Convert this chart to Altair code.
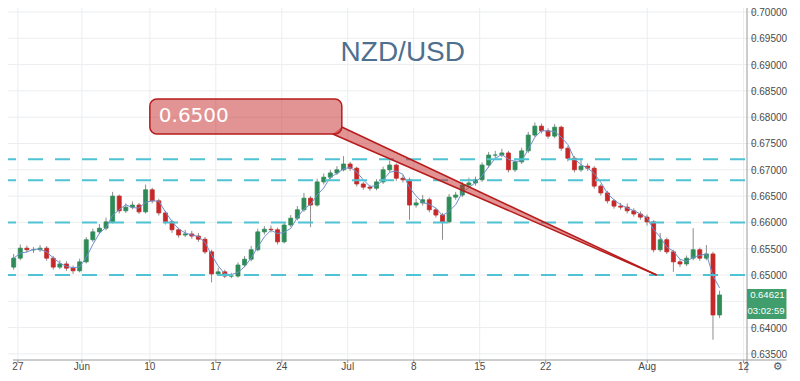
import altair as alt
import pandas as pd

# ---------------- data ----------------
closes = [0.6532, 0.6551, 0.6548, 0.6548, 0.6551, 0.6532, 0.6515, 0.6521, 0.6513, 0.6508,
          0.6525, 0.6567, 0.6582, 0.6589, 0.6601, 0.6650, 0.6622, 0.6629, 0.6633, 0.6620,
          0.6662, 0.6641, 0.6618, 0.6601, 0.6586, 0.6576, 0.6578, 0.6574, 0.6568, 0.6544,
          0.6502, 0.6506, 0.6498, 0.6498, 0.6519, 0.6530, 0.6548, 0.6582, 0.6587, 0.6586,
          0.6563, 0.6595, 0.6608, 0.6624, 0.6646, 0.6633, 0.6677, 0.6686, 0.6694, 0.6700,
          0.6711, 0.6703, 0.6673, 0.6667, 0.6665, 0.6677, 0.6700, 0.6709, 0.6684, 0.6681,
          0.6633, 0.6637, 0.6643, 0.6624, 0.6614, 0.6601, 0.6648, 0.6652, 0.6671, 0.6675,
          0.6681, 0.6709, 0.6728, 0.6728, 0.6732, 0.6700, 0.6715, 0.6736, 0.6766, 0.6783,
          0.6774, 0.6764, 0.6781, 0.6741, 0.6722, 0.6700, 0.6707, 0.6703, 0.6669, 0.6656,
          0.6641, 0.6631, 0.6629, 0.6622, 0.6616, 0.6610, 0.6601, 0.6548, 0.6567, 0.6544,
          0.6525, 0.6521, 0.6532, 0.6548, 0.6532, 0.6540, 0.6424, 0.6462]
highs = [0.6540, 0.6558, 0.6556, 0.6553, 0.6557, 0.6555, 0.6536, 0.6528, 0.6526, 0.6518,
         0.6531, 0.6572, 0.6588, 0.6597, 0.6609, 0.6658, 0.6653, 0.6636, 0.6640, 0.6637,
         0.6672, 0.6666, 0.6645, 0.6622, 0.6605, 0.6590, 0.6586, 0.6584, 0.6580, 0.6572,
         0.6548, 0.6514, 0.6510, 0.6504, 0.6524, 0.6536, 0.6555, 0.6588, 0.6593, 0.6594,
         0.6590, 0.6600, 0.6614, 0.6631, 0.6656, 0.6650, 0.6683, 0.6693, 0.6700, 0.6707,
         0.6726, 0.6715, 0.6706, 0.6677, 0.6671, 0.6682, 0.6706, 0.6718, 0.6712, 0.6690,
         0.6685, 0.6645, 0.6652, 0.6647, 0.6628, 0.6618, 0.6654, 0.6658, 0.6677, 0.6685,
         0.6687, 0.6714, 0.6734, 0.6736, 0.6740, 0.6736, 0.6720, 0.6742, 0.6772, 0.6790,
         0.6788, 0.6779, 0.6787, 0.6784, 0.6745, 0.6726, 0.6722, 0.6712, 0.6707, 0.6673,
         0.6660, 0.6645, 0.6637, 0.6636, 0.6627, 0.6621, 0.6615, 0.6604, 0.6580, 0.6571,
         0.6548, 0.6530, 0.6537, 0.6589, 0.6552, 0.6557, 0.6544, 0.6470]
lows = [0.6510, 0.6528, 0.6543, 0.6542, 0.6544, 0.6527, 0.6510, 0.6511, 0.6508, 0.6502,
        0.6505, 0.6522, 0.6563, 0.6578, 0.6585, 0.6598, 0.6617, 0.6618, 0.6625, 0.6616,
        0.6617, 0.6636, 0.6613, 0.6596, 0.6580, 0.6571, 0.6572, 0.6569, 0.6563, 0.6540,
        0.6486, 0.6498, 0.6494, 0.6494, 0.6495, 0.6515, 0.6526, 0.6545, 0.6577, 0.6581,
        0.6558, 0.6560, 0.6591, 0.6604, 0.6620, 0.6591, 0.6630, 0.6672, 0.6682, 0.6690,
        0.6697, 0.6698, 0.6668, 0.6662, 0.6660, 0.6661, 0.6673, 0.6696, 0.6679, 0.6676,
        0.6605, 0.6628, 0.6632, 0.6619, 0.6609, 0.6567, 0.6598, 0.6643, 0.6648, 0.6667,
        0.6670, 0.6677, 0.6704, 0.6722, 0.6724, 0.6695, 0.6696, 0.6711, 0.6732, 0.6762,
        0.6769, 0.6759, 0.6760, 0.6736, 0.6716, 0.6695, 0.6696, 0.6698, 0.6664, 0.6651,
        0.6636, 0.6626, 0.6624, 0.6617, 0.6611, 0.6605, 0.6594, 0.6543, 0.6544, 0.6540,
        0.6506, 0.6515, 0.6517, 0.6528, 0.6527, 0.6528, 0.6377, 0.6418]
first_open = 0.6515
first_bar = -0.32   # trading-day position of first candle
bar_step = 0.5      # trading days per candle

tick_pos = [0, 4.85, 10, 15, 20, 25, 30, 35, 40, 47.7, 55]
tick_text = ["27", "Jun", "10", "17", "24", "Jul", "8", "15", "22", "Aug", "12"]
price_ticks = [0.635, 0.640, 0.645, 0.650, 0.655, 0.660, 0.665, 0.670,
               0.675, 0.680, 0.685, 0.690, 0.695, 0.700]
price_labels = [v for v in price_ticks if v != 0.645]
levels = [0.672, 0.668, 0.660, 0.650]

title_text = "NZD/USD"
callout_text = "0.6500"
last_price = "0.64621"
countdown = "03:02:59"

# ---------------- tables ----------------
opens = [first_open] + closes[:-1]
df = pd.DataFrame({
    "pos": [first_bar + bar_step * i for i in range(len(closes))],
    "open": opens, "close": closes, "high": highs, "low": lows,
})

# scale frame (trading days / price)
X0, X1 = -0.3715, 55.259        # plot area, trading days
Y0, Y1 = 0.633840, 0.700759     # plot area, price
XR = 58.25                      # right end of price-scale strip
XL = 55.558                     # price label anchor
XT = 58.10                      # right edge of last-price texts
XG = 57.58                      # settings glyph
Y_LAB = 0.632416                # date label row
Y_TICK = 0.633270
Y_BOT = 0.631369

xs = alt.Scale(domain=[X0, X1], nice=False, zero=False)
ys = alt.Scale(domain=[Y0, Y1], nice=False, zero=False)
NOX = dict(scale=xs, axis=None)
NOY = dict(scale=ys, axis=None)

FONT = "Liberation Sans"
AXC = "#9a9a9a"
LABC = "#4a4a4a"
green = "#2e8b57"
red = "#c62828"

# grid
vgrid = alt.Chart(pd.DataFrame({"pos": tick_pos})).mark_rule(color="#ebedf0", strokeWidth=1).encode(
    x=alt.X("pos:Q", **NOX))
hgrid = alt.Chart(pd.DataFrame({"p": price_ticks})).mark_rule(color="#ebedf0", strokeWidth=1).encode(
    y=alt.Y("p:Q", **NOY))

base = alt.Chart(df)
wicks = base.mark_rule(color="#8c8c8c", strokeWidth=1).encode(
    x=alt.X("pos:Q", **NOX), y=alt.Y("low:Q", **NOY), y2="high:Q")
col = alt.condition("datum.open <= datum.close", alt.value(green), alt.value(red))
bodies = base.mark_bar(size=4, strokeWidth=0.8).encode(
    x=alt.X("pos:Q", **NOX), y=alt.Y("open:Q", **NOY), y2="close:Q",
    color=col, stroke=col)
ma = base.transform_window(ma="mean(close)", frame=[-2, 0], sort=[{"field": "pos"}]).mark_line(
    color="#6d8fcc", strokeWidth=1).encode(
    x=alt.X("pos:Q", **NOX), y=alt.Y("ma:Q", **NOY))

lv = alt.Chart(pd.DataFrame({"p": levels})).mark_rule(
    color="#4fc3d3", strokeWidth=2, strokeDash=[15, 12], strokeDashOffset=20).encode(
    y=alt.Y("p:Q", **NOY))

# callout
box = alt.Chart(pd.DataFrame({"x": [10.0], "x2": [24.55], "y": [0.68346], "y2": [0.67681]})).mark_rect(
    cornerRadius=7, fill=red, fillOpacity=0.5, stroke="#b71c1c", strokeWidth=1.5).encode(
    x=alt.X("x:Q", **NOX), x2="x2:Q", y=alt.Y("y:Q", **NOY), y2="y2:Q")
wedge = alt.Chart(pd.DataFrame({"x": [23.86, 24.545, 48.41],
                                "y": [0.67681, 0.67814, 0.6500],
                                "y2": [0.67681, 0.67604, 0.6500]})).mark_area(
    color=red, opacity=0.5).encode(
    x=alt.X("x:Q", **NOX), y=alt.Y("y:Q", **NOY), y2="y2:Q")
edges = alt.Chart(pd.DataFrame({"x": [23.86, 24.545], "y": [0.67681, 0.67814],
                                "x2": [48.41, 48.41], "y2": [0.6500, 0.6500]})).mark_rule(
    color="#b71c1c", strokeWidth=1.5).encode(
    x=alt.X("x:Q", **NOX), x2="x2:Q", y=alt.Y("y:Q", **NOY), y2="y2:Q")
ctext = alt.Chart(pd.DataFrame({"x": [10.68], "y": [0.68023], "t": [callout_text]})).mark_text(
    align="left", baseline="middle", font="DejaVu Sans", fontSize=20, color="white").encode(
    x=alt.X("x:Q", **NOX), y=alt.Y("y:Q", **NOY), text="t:N")

title = alt.Chart(pd.DataFrame({"x": [29.17], "y": [0.69220], "t": [title_text]})).mark_text(
    align="center", baseline="middle", font="Liberation Sans", fontSize=28, color="#4f6f8f").encode(
    x=alt.X("x:Q", **NOX), y=alt.Y("y:Q", **NOY), text="t:N")

# axis frame: separator + bottom line
frame = alt.Chart(pd.DataFrame({"x": [X1, X0], "x2": [X1, XR],
                                "y": [Y1, Y0], "y2": [Y_BOT, Y0]})).mark_rule(
    color=AXC, strokeWidth=1).encode(
    x=alt.X("x:Q", **NOX), x2="x2:Q", y=alt.Y("y:Q", **NOY), y2="y2:Q")

# price scale ticks + labels
pl = pd.DataFrame({"p": price_labels, "txt": [f"{v:.5f}" for v in price_labels]})
ptick = alt.Chart(pl).mark_rule(color=AXC, strokeWidth=1).encode(
    x=alt.value(744), x2=alt.value(747), y=alt.Y("p:Q", **NOY))
plab = alt.Chart(pl).mark_text(align="left", baseline="middle", font=FONT, fontSize=10, dy=1,
                               color=LABC).encode(
    x=alt.X("xl:Q", **NOX), y=alt.Y("p:Q", **NOY), text="txt:N").transform_calculate(xl=str(XL))

# time scale ticks + labels
tl = pd.DataFrame({"pos": tick_pos, "txt": tick_text})
ttick = alt.Chart(tl).mark_rule(color=AXC, strokeWidth=1).encode(
    x=alt.X("pos:Q", **NOX), y=alt.Y("a:Q", **NOY), y2="b:Q").transform_calculate(
    a=str(Y0), b=str(Y_TICK))
tlab = alt.Chart(tl).mark_text(align="center", baseline="middle", font=FONT, fontSize=10,
                               color=LABC).encode(
    x=alt.X("pos:Q", **NOX), y=alt.Y("yl:Q", **NOY), text="txt:N").transform_calculate(yl=str(Y_LAB))

# last price label on the scale
plabel = alt.Chart(pd.DataFrame({"x": [X1], "x2": [XR], "y": [0.64734], "y2": [0.64163]})).mark_rect(
    color="#3f9e6c").encode(
    x=alt.X("x:Q", **NOX), x2="x2:Q", y=alt.Y("y:Q", **NOY), y2="y2:Q")
ptext = alt.Chart(pd.DataFrame({"x": [XT, XT], "y": [0.64621, 0.64316],
                                "t": [last_price, countdown]})).mark_text(
    align="right", baseline="middle", font=FONT, fontSize=9.5, color="white").encode(
    x=alt.X("x:Q", **NOX), y=alt.Y("y:Q", **NOY), text="t:N")

gear = alt.Chart(pd.DataFrame({"x": [XG], "y": [Y_LAB], "t": ["\u2699"]})).mark_text(
    align="center", baseline="middle", font="DejaVu Sans", fontSize=11, color="#555555").encode(
    x=alt.X("x:Q", **NOX), y=alt.Y("y:Q", **NOY), text="t:N")

chart = alt.layer(vgrid, hgrid, wicks, bodies, ma, lv, wedge, box, edges, ctext, title,
                  frame, ptick, plab, ttick, tlab, plabel, ptext, gear).properties(
    width=744, height=352, background="white",
    padding={"left": 0, "top": 0, "right": 40, "bottom": 13},
    autosize=alt.AutoSizeParams(type="none"),
).configure_view(strokeWidth=0)

chart.save("out.html", embed_options={"renderer": "svg", "actions": False})
